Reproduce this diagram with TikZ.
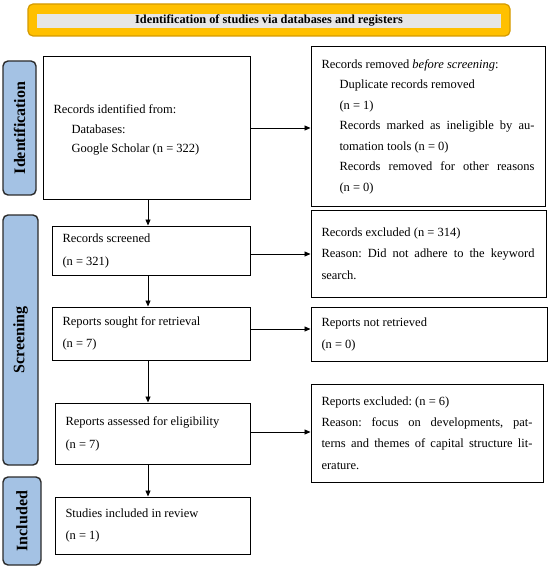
\documentclass[tikz,border=0pt]{standalone}
\usepackage{fontspec}
\setmainfont{Liberation Serif}
\usetikzlibrary{arrows.meta}
\definecolor{bannerfill}{HTML}{FFC000}
\definecolor{bannerdraw}{HTML}{D49A00}
\definecolor{titlegrey}{HTML}{E6E6E6}
\definecolor{labelfill}{HTML}{A4C2E4}
\definecolor{labeldraw}{HTML}{2B2B2B}
\newcommand{\jline}[2]{{\spaceskip=.25em plus 2em\xspaceskip=0pt\makebox[#1][s]{#2}}}
\newcommand{\ind}{\hspace*{18pt}}
\newcommand{\bodyfont}[1]{\fontsize{12.5}{#1}\selectfont\frenchspacing}
\tikzset{
  box/.style={draw=black, line width=1pt, rectangle, align=left, anchor=center,
    inner xsep=10.5pt, inner ysep=0pt, execute at begin node={\spaceskip=0pt\xspaceskip=0pt\relax}},
  sidelabel/.style={draw=labeldraw, fill=labelfill, line width=1.4pt, rounded corners=5pt,
    inner sep=0pt},
  sidetext/.style={rotate=90, font=\fontsize{16}{17}\selectfont\bfseries},
  arr/.style={line width=0.8pt, -{Triangle[length=6pt,width=5pt]}},
}
\begin{document}
\begin{tikzpicture}[x=1pt,y=-1pt]
\useasboundingbox (0,0) rectangle (550,569);
% banner
\node[draw=bannerdraw, fill=bannerfill, line width=1.2pt, rounded corners=5pt,
  minimum width=482pt, minimum height=32pt, inner sep=0pt] (banner) at (269,20) {};
\node[fill=titlegrey, minimum width=464pt, minimum height=14pt, inner sep=0pt,
  font=\fontsize{12.3}{13}\selectfont\bfseries] (title) at (269,21)
  {Identification of studies via databases and registers};
% side labels
\node[sidelabel, minimum width=33pt, minimum height=134pt] (idlab) at (19.5,128) {};
\node[sidetext] (idtext) at (idlab.center) {Identification};
\node[sidelabel, minimum width=35pt, minimum height=250pt] (scrlab) at (20.5,340) {};
\node[sidetext] (scrtext) at (scrlab.center) {Screening};
\node[sidelabel, minimum width=38pt, minimum height=88pt] (inclab) at (22,521) {};
\node[sidetext] (inctext) at (inclab.center) {Included};
% left column
\node[box, minimum width=207pt, minimum height=142pt, text width=186pt,
  font=\bodyfont{19.5}] (ident) at (146.5,128)
  {\\[-6pt]Records identified from:\\ \ind Databases:\\ \ind Google Scholar (n = 322)};
\node[box, minimum width=198pt, minimum height=49pt, text width=177pt,
  font=\bodyfont{23}] (screened) at (151,250.5)
  {Records screened\\ (n = 321)};
\node[box, minimum width=198pt, minimum height=53pt, text width=177pt,
  font=\bodyfont{22}] (sought) at (151,333.5)
  {Reports sought for retrieval\\ (n = 7)};
\node[box, minimum width=195pt, minimum height=61pt, text width=174pt,
  font=\bodyfont{23}] (assessed) at (152.5,433.5)
  {Reports assessed for eligibility\\ (n = 7)};
\node[box, minimum width=195pt, minimum height=57pt, text width=174pt,
  font=\bodyfont{22}] (included) at (152.5,525.5)
  {Studies included in review\\ (n = 1)};
% right column
\node[box, minimum width=234pt, minimum height=159pt, text width=213pt,
  font=\bodyfont{20.5}] (removed) at (428,126.5)
  {Records removed \textit{before screening}:\\
   \ind Duplicate records removed\\
   \ind (n = 1)\\
   \ind\jline{195pt}{Records marked as ineligible by au-}\\
   \ind tomation tools (n = 0)\\
   \ind\jline{195pt}{Records removed for other reasons}\\
   \ind (n = 0)};
\node[box, minimum width=235pt, minimum height=87pt, text width=214pt,
  font=\bodyfont{21.5}] (excluded) at (428.5,253.5)
  {Records excluded (n = 314)\\
   \jline{213pt}{Reason: Did not adhere to the keyword}\\
   search.};
\node[box, minimum width=236pt, minimum height=54pt, text width=215pt,
  font=\bodyfont{22}] (notret) at (429,334)
  {Reports not retrieved\\ (n = 0)};
\node[box, minimum width=232pt, minimum height=98pt, text width=211pt,
  font=\bodyfont{21.3}] (repexcl) at (427,433)
  {Reports excluded: (n = 6)\\
   \jline{211pt}{Reason: focus on developments, pat-}\\
   \jline{211pt}{terns and themes of capital structure lit-}\\
   erature.};
% connectors
\coordinate (xc) at (148,0);
\draw[arr] (ident.south -| xc) -- (screened.north -| xc);
\draw[arr] (screened.south -| xc) -- (sought.north -| xc);
\draw[arr] (sought.south -| xc) -- (assessed.north -| xc);
\draw[arr] (assessed.south -| xc) -- (included.north -| xc);
\coordinate (ya) at (0,128);
\coordinate (yb) at (0,254);
\coordinate (yc) at (0,329);
\coordinate (yd) at (0,432);
\draw[arr] (ident.east |- ya) -- (removed.west |- ya);
\draw[arr] (screened.east |- yb) -- (excluded.west |- yb);
\draw[arr] (sought.east |- yc) -- (notret.west |- yc);
\draw[arr] (assessed.east |- yd) -- (repexcl.west |- yd);
\end{tikzpicture}
\end{document}
